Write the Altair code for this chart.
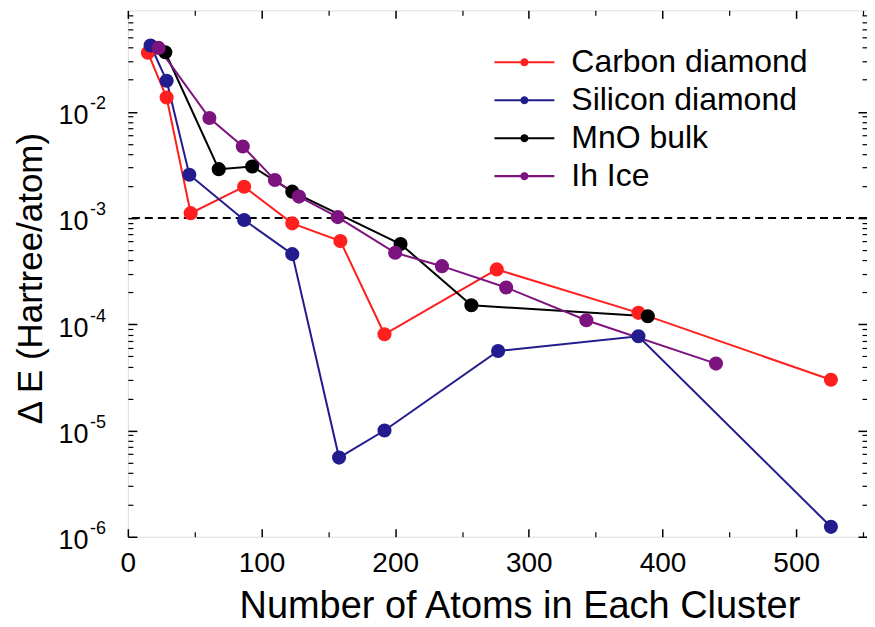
import math
import altair as alt
import pandas as pd

# ---------------- data ----------------
series_names = ["Carbon diamond", "Silicon diamond", "MnO bulk", "Ih Ice"]
series_colors = ["#ff1f1f", "#231c8e", "#000000", "#7d137f"]

carbon_x = [15, 29, 47, 87, 123, 159, 192, 276, 382, 526]
carbon_y = [0.036, 0.0136, 0.00111, 0.00197, 0.00089, 0.000606, 8.05e-5, 3.28e-4, 1.28e-4, 3.0e-5]

silicon_x = [17, 29, 46, 87, 123, 158, 192, 277, 382, 526]
silicon_y = [0.042, 0.0196, 0.00255, 0.000958, 0.000457, 5.56e-6, 1.0e-5, 5.6e-5, 7.7e-5, 1.24e-6]

mno_x = [28, 68, 93, 123, 204, 257, 389]
mno_y = [0.0363, 0.00288, 0.00305, 0.00177, 0.000569, 0.000151, 0.000119]

ice_x = [23, 61, 86, 110, 128, 157, 200, 235, 283, 343, 440]
ice_y = [0.0399, 0.00873, 0.00471, 0.00228, 0.00159, 0.00102, 0.000471, 0.000352, 0.000222, 0.000109, 4.26e-5]

x_major = [0, 100, 200, 300, 400, 500]
x_minor = [50, 150, 250, 350, 450, 550]
y_decades = [1e-6, 1e-5, 1e-4, 1e-3, 1e-2]
y_minor_mult = [2, 3, 4, 5, 6, 7, 8, 9]
threshold = [1e-3]

x_title = "Number of Atoms in Each Cluster"
y_title = "Δ E (Hartree/atom)"

# ---------------- table ----------------
rows = []
for name, xs_, ys_ in zip(series_names,
                          [carbon_x, silicon_x, mno_x, ice_x],
                          [carbon_y, silicon_y, mno_y, ice_y]):
    for a, b in zip(xs_, ys_):
        rows.append({"series": name, "x": a, "y": b})
df = pd.DataFrame(rows)

Y_MAX = 0.09
y_minor = [m * d for d in y_decades for m in y_minor_mult if m * d < Y_MAX]

F = "Liberation Sans"
xs = alt.Scale(domain=[0, 553], nice=False, zero=False)
ys = alt.Scale(type="log", domain=[1e-6, Y_MAX], nice=False)
fill_scale = alt.Scale(domain=series_names, range=series_colors)
# same mapping, listed in reverse so that this (legend-less) scale stays separate
stroke_scale = alt.Scale(domain=series_names[::-1], range=series_colors[::-1])


def ax(**kw):
    base = dict(grid=False, domain=False, labelFont=F, titleFont=F,
                labelColor="black", tickColor="black", titleColor="black",
                labelOverlap=False, labelFlush=False, labelBound=False)
    base.update(kw)
    return alt.Axis(**base)


base = alt.Chart(df)

# legend glyph: a 60px line with an 8px dot in the middle (symbolSize 900 -> unit = 15px)
_r = 0.27
_circle = " ".join(
    f"{'M' if i == 0 else 'L'}{_r * math.cos(2 * math.pi * i / 16):.4f},{_r * math.sin(2 * math.pi * i / 16):.4f}"
    for i in range(16)
) + " Z"
legend_path = "M-2,-0.07 L2,-0.07 L2,0.07 L-2,0.07 Z " + _circle

lines = base.mark_line(strokeWidth=2).encode(
    x=alt.X("x:Q", scale=xs,
            axis=ax(orient="bottom", values=x_major, tickSize=8, offset=-8, tickWidth=1.5,
                    labelFontSize=28, labelPadding=13, title=x_title, titleFontSize=38,
                    titleFontWeight="normal", titleX=392, titleY=89,
                    titleBaseline="alphabetic", titleAlign="center")),
    y=alt.Y("y:Q", scale=ys,
            axis=ax(orient="left", values=y_decades, tickSize=9, offset=-9, tickWidth=1.5,
                    labelExpr="'10'", labelFontSize=27, labelPadding=40, labelOffset=4,
                    title=y_title, titleFontSize=35, titleFontWeight="normal",
                    titleX=-106, titleY=268, titleAngle=-90,
                    titleBaseline="middle", titleAlign="center")),
    stroke=alt.Stroke("series:N", scale=stroke_scale, legend=None),
    detail="series:N",
)

points = base.mark_point(filled=True, size=200, opacity=1, strokeWidth=0).encode(
    x=alt.X("x:Q", scale=xs, axis=None),
    y=alt.Y("y:Q", scale=ys,
            axis=ax(orient="left", values=y_decades, ticks=False,
                    labelExpr="'' + round(log(datum.value) / LN10)",
                    labelFontSize=18, labelAlign="left", labelPadding=38.5,
                    labelOffset=-8, title=None)),
    fill=alt.Fill("series:N", scale=fill_scale,
                  legend=alt.Legend(orient="none", legendX=381, legendY=36, title=None,
                                    padding=0, labelFont=F, labelFontSize=32,
                                    labelColor="black", labelOffset=31, labelLimit=500,
                                    rowPadding=6, symbolType=legend_path, symbolSize=900,
                                    symbolStrokeWidth=0)),
)

minor_bl = base.mark_point(opacity=0).encode(
    x=alt.X("x:Q", scale=xs,
            axis=ax(orient="bottom", values=x_minor, tickSize=5, offset=-5, tickWidth=1.2,
                    labels=False, title=None)),
    y=alt.Y("y:Q", scale=ys,
            axis=ax(orient="left", values=y_minor, tickSize=5, offset=-5, tickWidth=1.2,
                    labels=False, title=None)),
)

major_tr = base.mark_point(opacity=0).encode(
    x=alt.X("x:Q", scale=xs,
            axis=ax(orient="top", values=x_major, tickSize=8, offset=-8, tickWidth=1.5,
                    labels=False, title=None)),
    y=alt.Y("y:Q", scale=ys,
            axis=ax(orient="right", values=y_decades, tickSize=9, offset=-9, tickWidth=1.5,
                    labels=False, title=None)),
)

minor_tr = base.mark_point(opacity=0).encode(
    x=alt.X("x:Q", scale=xs,
            axis=ax(orient="top", values=x_minor, tickSize=5, offset=-5, tickWidth=1.2,
                    labels=False, title=None)),
    y=alt.Y("y:Q", scale=ys,
            axis=ax(orient="right", values=y_minor, tickSize=5, offset=-5, tickWidth=1.2,
                    labels=False, title=None)),
)

rule = alt.Chart(pd.DataFrame({"t": threshold})).mark_rule(
    strokeDash=[8, 5], strokeWidth=2, color="black"
).encode(y=alt.Y("t:Q", scale=ys, axis=None))

chart = alt.layer(rule, lines, points, minor_bl, major_tr, minor_tr).resolve_axis(
    x="independent", y="independent"
).properties(
    width=740, height=527,
    autosize=alt.AutoSizeParams(type="none"),
    padding={"left": 120, "top": 2, "right": 0, "bottom": 90},
).configure_view(
    stroke="black", strokeWidth=2
).configure(background="white")

chart.save("out.html", embed_options={"renderer": "svg", "actions": False})
